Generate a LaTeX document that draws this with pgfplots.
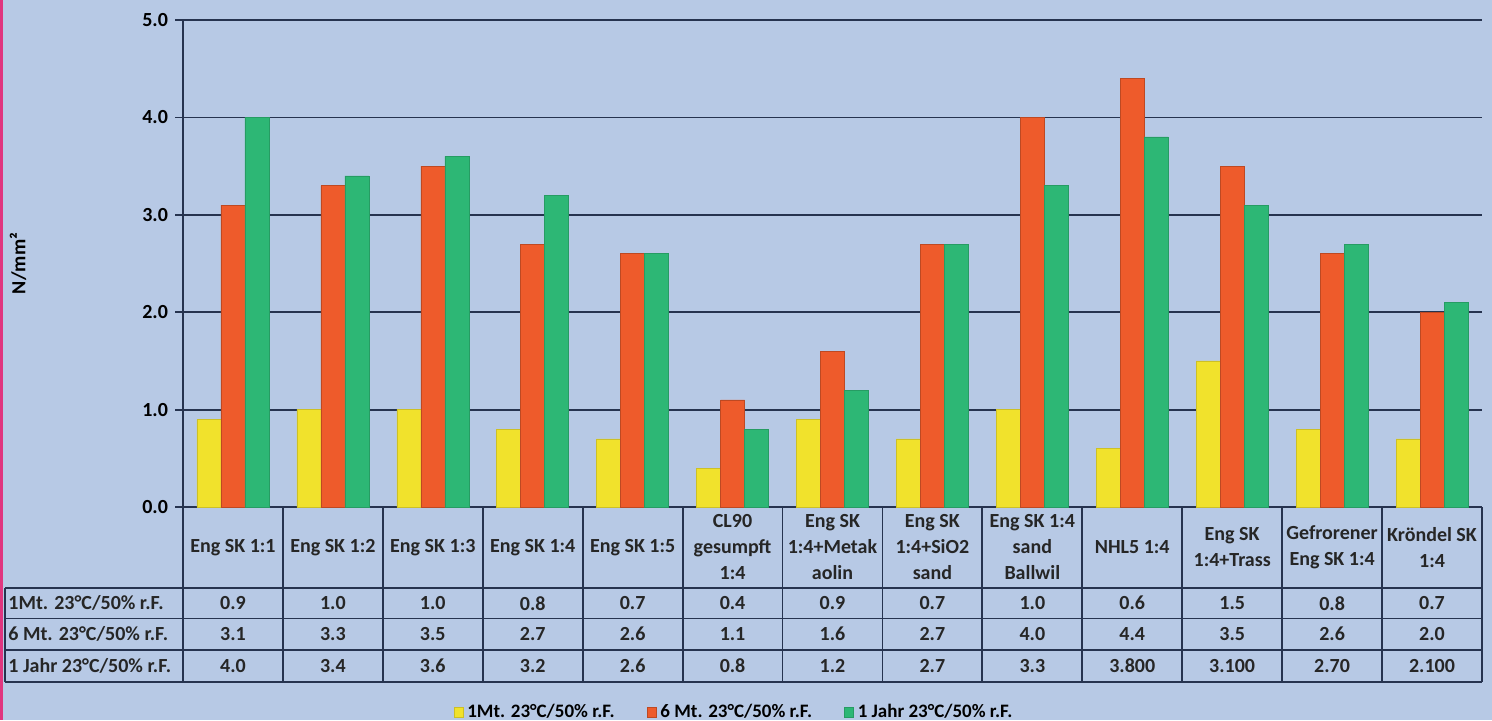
\documentclass[border=0pt]{standalone}
\usepackage{fontspec}
\setmainfont{Carlito}
\usepackage{pgfplots}
\pgfplotsset{compat=1.18}
\usepackage{pgfplotstable}

\definecolor{bg}{HTML}{B7C9E5}
\definecolor{ln}{HTML}{26334F}
\definecolor{cY}{HTML}{F1E22C}
\definecolor{cO}{HTML}{EE5B2B}
\definecolor{cG}{HTML}{2DB775}
\definecolor{pk}{HTML}{E0357F}

\pgfplotstableread{
x a b c
0 0.9 3.1 4.0
1 1.0 3.3 3.4
2 1.0 3.5 3.6
3 0.8 2.7 3.2
4 0.7 2.6 2.6
5 0.4 1.1 0.8
6 0.9 1.6 1.2
7 0.7 2.7 2.7
8 1.0 4.0 3.3
9 0.6 4.4 3.8
10 1.5 3.5 3.1
11 0.8 2.6 2.7
12 0.7 2.0 2.1
}\data

\def\rowA{0.9,1.0,1.0,0.8,0.7,0.4,0.9,0.7,1.0,0.6,1.5,0.8,0.7}
\def\rowB{3.1,3.3,3.5,2.7,2.6,1.1,1.6,2.7,4.0,4.4,3.5,2.6,2.0}
\def\rowC{4.0,3.4,3.6,3.2,2.6,0.8,1.2,2.7,3.3,3.800,3.100,2.70,2.100}

\begin{document}
\begin{tikzpicture}[font=\bfseries\fontsize{10}{13}\selectfont]
\fill[bg] (0,0) rectangle (746pt,360pt);
\useasboundingbox (0,0) rectangle (746pt,360pt);
\fill[pk] (0,0) rectangle (1.5pt,360pt);
\begin{axis}[
  at={(91.5pt,106.5pt)}, anchor=south west, scale only axis,
  width=649.5pt, height=243.5pt,
  xmin=-0.5, xmax=12.5, ymin=0, ymax=5,
  ybar=0pt, bar width=12pt,
  axis lines*=left,
  axis line style={ln, line width=0.9pt},
  xtick=\empty,
  ytick={0,1,2,3,4,5},
  ymajorgrids, grid style={ln, line width=0.9pt},
  tick style={ln, line width=0.9pt}, major tick length=4pt, tick align=outside,
  yticklabel style={/pgf/number format/.cd, fixed, fixed zerofill, precision=1, assume math mode=true},
  ticklabel style={font=\bfseries\fontsize{10}{12}\selectfont},
  ylabel={N/mm²},
  ylabel style={at={(axis description cs:-0.127,0.5)}, anchor=center, font=\bfseries\fontsize{10}{12}\selectfont},
  legend columns=3,
  legend style={at={(axis description cs:0.425,-0.421)}, anchor=center, draw=none, fill=none,
    font=\bfseries\fontsize{9.5}{11}\selectfont,
    /tikz/every even column/.append style={column sep=14pt}},
  legend image code/.code={\fill[#1] (0pt,-2.6pt) rectangle (4.5pt,2.6pt);},
]
\addplot[fill=cY, draw=cY!85!black, line width=0.3pt] table[x=x,y=a] {\data};
\addplot[fill=cO, draw=cO!80!black, line width=0.3pt] table[x=x,y=b] {\data};
\addplot[fill=cG, draw=cG!85!black, line width=0.3pt] table[x=x,y=c] {\data};
\legend{1Mt. 23°C/50\% r.F.,6 Mt. 23°C/50\% r.F.,1 Jahr 23°C/50\% r.F.}
\end{axis}
% data table
\begin{scope}[ln, line width=0.9pt]
\foreach \k in {0,...,13} {
  \draw (91.5pt+\k*49.96pt,106.5pt) -- (91.5pt+\k*49.96pt,19pt);
}
\draw (2.5pt,66pt) -- (2.5pt,19pt);
\foreach \yy in {66,50.75,35,19} {
  \draw (2.5pt,\yy pt) -- (741pt,\yy pt);
}
\end{scope}
\foreach \t [count=\i from 0] in {{Eng SK 1:1},{Eng SK 1:2},{Eng SK 1:3},{Eng SK 1:4},{Eng SK 1:5},{CL90\\gesumpft\\1:4},{Eng SK\\1:4+Metak\\aolin},{Eng SK\\1:4+SiO2\\sand},{Eng SK 1:4\\sand\\Ballwil},{NHL5 1:4},{Eng SK\\1:4+Trass},{Gefrorener\\Eng SK 1:4},{Kröndel SK\\1:4}} {
  \node[align=center, text=black!85, inner sep=0pt] at (91.5pt+\i*49.96pt+24.98pt,86.25pt) {\t};
}
\node[anchor=west, text=black!85, inner sep=0pt] at (4pt,58.4pt) {1Mt. 23°C/50\% r.F.};
\node[anchor=west, text=black!85, inner sep=0pt] at (4pt,42.9pt) {6 Mt. 23°C/50\% r.F.};
\node[anchor=west, text=black!85, inner sep=0pt] at (4pt,27pt) {1 Jahr 23°C/50\% r.F.};
\foreach \v [count=\i from 0] in \rowA {
  \node[text=black!85, inner sep=0pt] at (91.5pt+\i*49.96pt+24.98pt,58.4pt) {\v};
}
\foreach \v [count=\i from 0] in \rowB {
  \node[text=black!85, inner sep=0pt] at (91.5pt+\i*49.96pt+24.98pt,42.9pt) {\v};
}
\foreach \v [count=\i from 0] in \rowC {
  \node[text=black!85, inner sep=0pt] at (91.5pt+\i*49.96pt+24.98pt,27pt) {\v};
}
\end{tikzpicture}
\end{document}
